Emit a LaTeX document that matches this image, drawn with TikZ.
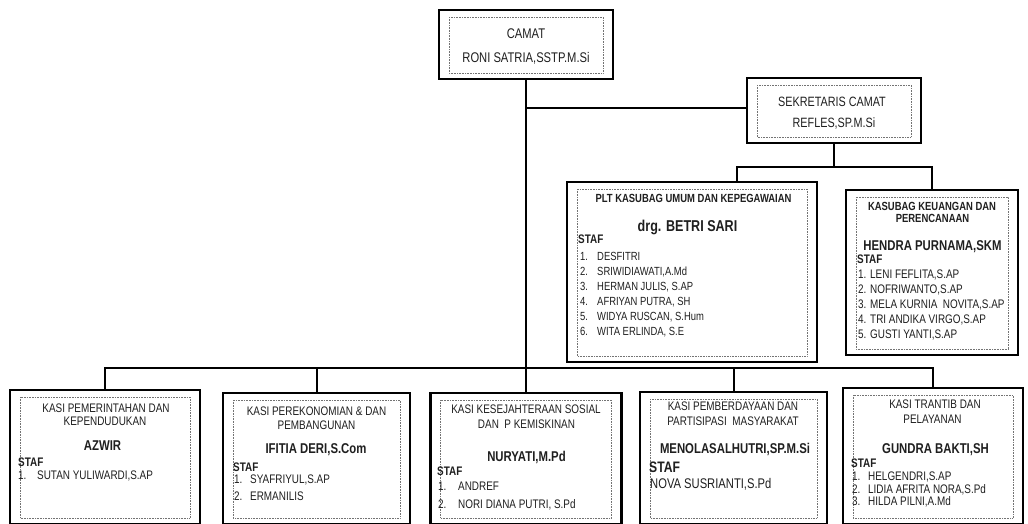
\documentclass[tikz,border=0pt]{standalone}
\usepackage{fontspec}
\setmainfont[FakeStretch=0.8]{Liberation Sans}
\begin{document}
\begin{tikzpicture}[x=1pt,y=-1pt,
  outer/.style={draw, line width=2.5pt, inner sep=0pt, outer sep=0pt},
  dotbox/.style={draw=black!55, line width=0.6pt, densely dotted},
  conn/.style={line width=2pt},
  tc/.style={inner sep=0pt, anchor=base, text=black!88},
  tl/.style={inner sep=0pt, anchor=base west, text=black!88},
  fcam/.style={font=\fontsize{14}{16}\selectfont},
  fsek/.style={font=\fontsize{13.5}{15}\selectfont},
  ftit/.style={font=\fontsize{11.8}{13}\selectfont\bfseries},
  fname/.style={font=\fontsize{14.2}{16}\selectfont\bfseries},
  fbetri/.style={font=\fontsize{15.7}{18}\selectfont\bfseries},
  fstaf/.style={font=\fontsize{12.4}{14}\selectfont\bfseries},
  fstafbig/.style={font=\fontsize{15.2}{17}\selectfont\bfseries},
  fitem/.style={font=\fontsize{11.8}{13}\selectfont},
  fkitem/.style={font=\fontsize{12.4}{14}\selectfont},
  fkasi/.style={font=\fontsize{12.4}{14}\selectfont},
  fbig/.style={font=\fontsize{14}{16}\selectfont}
]
\useasboundingbox (0,0) rectangle (1028,523);
\fill[white] (0,0) rectangle (1028,523);

% boxes
\node[outer, minimum width=174pt, minimum height=69pt] (camat) at (526,44.5) {};
\node[outer, minimum width=174pt, minimum height=65pt] (sek) at (834,110.5) {};
\node[outer, minimum width=250pt, minimum height=180pt] (plt) at (692,272) {};
\node[outer, minimum width=172pt, minimum height=165pt] (keu) at (932,272.5) {};
\node[outer, minimum width=190pt, minimum height=134pt] (k1) at (105,457) {};
\node[outer, minimum width=187pt, minimum height=131pt] (k2) at (316.5,458.5) {};
\node[outer, minimum width=191pt, minimum height=131pt] (k3) at (526,458.5) {};
\node[outer, minimum width=187pt, minimum height=132pt] (k4) at (733.5,458) {};
\node[outer, minimum width=180pt, minimum height=136pt] (k5) at (933,456) {};

\foreach \n in {camat,sek,plt,keu,k1,k2,k3,k4,k5}
  \draw[dotbox] ([shift={(10,7)}]\n.north west) rectangle ([shift={(-10,-6)}]\n.south east);

% connectors
\coordinate (jc) at (526,108);
\coordinate (bs) at (834,167);
\coordinate (pc) at (737,167);
\coordinate (bb) at (0,368);
\draw[conn] (camat.south) -- (k3.north);
\draw[conn] (jc) -- (jc -| sek.west);
\draw[conn] (sek.south) -- (bs);
\draw[conn] (pc |- plt.north) -- (pc) -- (pc -| keu.north) -- (keu.north);
\draw[conn] (k1.north) -- (k1.north |- bb) -- (k5.north |- bb) -- (k5.north);
\draw[conn] (k2.north) -- (k2.north |- bb);
\draw[conn] (k4.north) -- (k4.north |- bb);

% camat
\node[tc,fcam] (ca1) at (526,38) {CAMAT};
\node[tc,fcam] (ca2) at (526,62) {RONI SATRIA,SSTP.M.Si};
% sekretaris
\node[tc,fsek] (se1) at (832,106) {SEKRETARIS CAMAT};
\node[tc,fsek] (se2) at (834,127) {REFLES,SP.M.Si};
% PLT
\node[tc,ftit] (p1) at (693.5,202) {PLT KASUBAG UMUM DAN KEPEGAWAIAN};
\node[tc,fbetri] (p2) at (687.5,231) {drg. BETRI SARI};
\node[tl,fstaf] (p3) at (578,243) {STAF};
\foreach \i/\t in {1/DESFITRI,2/{SRIWIDIAWATI,A.Md},3/{HERMAN JULIS, S.AP},4/{AFRIYAN PUTRA, SH},5/{WIDYA RUSCAN, S.Hum},6/{WITA ERLINDA, S.E}}{
  \node[tl,fitem] (pn\i) at (580,245+15*\i) {\i.};
  \node[tl,fitem] (pt\i) at (597,245+15*\i) {\t};
}
% keuangan
\node[tc,ftit] (q1) at (932,210) {KASUBAG KEUANGAN DAN};
\node[tc,ftit] (q2) at (932.5,222.5) {PERENCANAAN};
\node[tc,fname] (q3) at (932.5,250) {HENDRA PURNAMA,SKM};
\node[tl,fstaf] (q4) at (857,263) {STAF};
\foreach \i/\t in {1/{LENI FEFLITA,S.AP},2/{NOFRIWANTO,S.AP},3/{MELA KURNIA \ NOVITA,S.AP},4/{TRI ANDIKA VIRGO,S.AP},5/{GUSTI YANTI,S.AP}}{
  \node[tl,fkitem] (qn\i) at (858,263+15*\i) {\i.};
  \node[tl,fkitem] (qt\i) at (870,263+15*\i) {\t};
}
% kasi 1
\node[tc,fkasi] (a1) at (106,412) {KASI PEMERINTAHAN DAN};
\node[tc,fkasi] (a2) at (105,425) {KEPENDUDUKAN};
\node[tc,fname] (a3) at (102.5,450) {AZWIR};
\node[tl,fstaf] (a4) at (18,466) {STAF};
\node[tl,fkasi] (an1) at (18,479) {1.};
\node[tl,fkasi] (at1) at (37,479) {SUTAN YULIWARDI,S.AP};
% kasi 2
\node[tc,fkasi] (b1) at (316.5,415) {KASI PEREKONOMIAN \& DAN};
\node[tc,fkasi] (b2) at (316.5,429) {PEMBANGUNAN};
\node[tc,fname] (b3) at (316,453) {IFITIA DERI,S.Com};
\node[tl,fstaf] (b4) at (233,471) {STAF};
\node[tl,fkasi] (bn1) at (234,483) {1.};
\node[tl,fkasi] (bt1) at (250,483) {SYAFRIYUL,S.AP};
\node[tl,fkasi] (bn2) at (234,500) {2.};
\node[tl,fkasi] (bt2) at (250,500) {ERMANILIS};
% kasi 3
\node[tc,fkasi] (c1) at (526,413) {KASI KESEJAHTERAAN SOSIAL};
\node[tc,fkasi] (c2) at (526.5,428) {DAN \ P KEMISKINAN};
\node[tc,fname] (c3) at (526.5,461) {NURYATI,M.Pd};
\node[tl,fstaf] (c4) at (437,475) {STAF};
\node[tl,fkasi] (cn1) at (438,490) {1.};
\node[tl,fkasi] (ct1) at (458,490) {ANDREF};
\node[tl,fkasi] (cn2) at (438,508) {2.};
\node[tl,fkasi] (ct2) at (458,508) {NORI DIANA PUTRI, S.Pd};
% kasi 4
\node[tc,fkasi] (d1) at (733,410) {KASI PEMBERDAYAAN DAN};
\node[tc,fkasi] (d2) at (733,425) {PARTISIPASI \ MASYARAKAT};
\node[tc,fname] (d3) at (735,453) {MENOLASALHUTRI,SP.M.Si};
\node[tl,fstafbig] (d4) at (649,472) {STAF};
\node[tl,fbig] (d5) at (650,488) {NOVA SUSRIANTI,S.Pd};
% kasi 5
\node[tc,fkasi] (e1) at (935,408) {KASI TRANTIB DAN};
\node[tc,fkasi] (e2) at (932.5,423) {PELAYANAN};
\node[tc,fname] (e3) at (935.5,453) {GUNDRA BAKTI,SH};
\node[tl,fstaf] (e4) at (851,467) {STAF};
\node[tl,fkasi] (en1) at (852,480) {1.};
\node[tl,fkasi] (et1) at (868,480) {HELGENDRI,S.AP};
\node[tl,fkasi] (en2) at (852,493) {2.};
\node[tl,fkasi] (et2) at (868,493) {LIDIA AFRITA NORA,S.Pd};
\node[tl,fkasi] (en3) at (852,505.5) {3.};
\node[tl,fkasi] (et3) at (868,505.5) {HILDA PILNI,A.Md};
\end{tikzpicture}
\end{document}
